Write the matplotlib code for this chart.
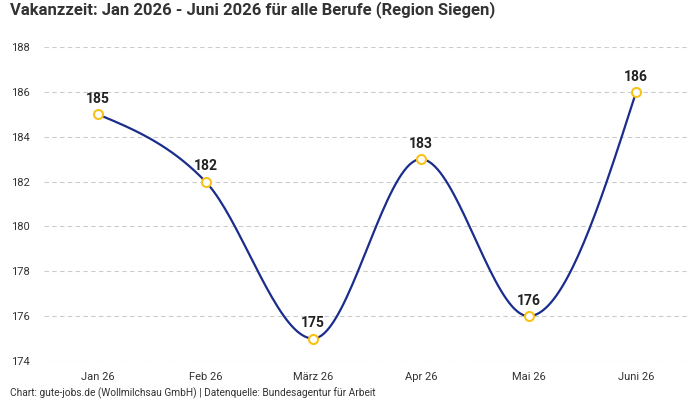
import numpy as np
import matplotlib.pyplot as plt

months = ["Jan 26", "Feb 26", "März 26", "Apr 26", "Mai 26", "Juni 26"]
vakanz = [185, 182, 175, 183, 176, 186]

title = "Vakanzzeit: Jan 2026 - Juni 2026 für alle Berufe (Region Siegen)"
footer = "Chart: gute-jobs.de (Wollmilchsau GmbH) | Datenquelle: Bundesagentur für Arbeit"

plt.rcParams['font.family'] = ['Roboto', 'DejaVu Sans']


def monotone_curve(x, y, n=40):
    # monotone cubic (d3 curveMonotoneX style)
    x = np.asarray(x, float)
    y = np.asarray(y, float)
    h = np.diff(x)
    s = np.diff(y) / h
    m = np.zeros(len(x))
    for i in range(1, len(x) - 1):
        p = (s[i - 1] * h[i] + s[i] * h[i - 1]) / (h[i - 1] + h[i])
        m[i] = (np.sign(s[i - 1]) + np.sign(s[i])) * min(abs(s[i - 1]), abs(s[i]), 0.5 * abs(p))
    m[0] = (3 * s[0] - m[1]) / 2
    m[-1] = (3 * s[-1] - m[-2]) / 2
    xs, ys = [], []
    for i in range(len(x) - 1):
        t = np.linspace(0, 1, n)
        dx = h[i] / 3
        p0 = (x[i], y[i])
        p1 = (x[i] + dx, y[i] + dx * m[i])
        p2 = (x[i + 1] - dx, y[i + 1] - dx * m[i + 1])
        p3 = (x[i + 1], y[i + 1])
        bx = (1 - t)**3 * p0[0] + 3 * (1 - t)**2 * t * p1[0] + 3 * (1 - t) * t**2 * p2[0] + t**3 * p3[0]
        by = (1 - t)**3 * p0[1] + 3 * (1 - t)**2 * t * p1[1] + 3 * (1 - t) * t**2 * p2[1] + t**3 * p3[1]
        xs.extend(bx)
        ys.extend(by)
    return np.array(xs), np.array(ys)


fig = plt.figure(figsize=(7, 4), dpi=100)
ax = fig.add_axes([44 / 700, 1 - 361 / 400, (690 - 44) / 700, (361 - 47) / 400])

xpos = np.arange(len(months))
cx, cy = monotone_curve(xpos, vakanz)
ax.plot(cx, cy, color='#1a2d8c', lw=1.6, zorder=3)
ax.plot(xpos, vakanz, 'o', ms=6.5, mfc='white', mec='#f7c21a', mew=1.5, zorder=4, clip_on=False)

for x, v in zip(xpos, vakanz):
    ax.annotate(str(v), (x, v), xytext=(0, 6), textcoords='offset points',
                ha='center', va='bottom', fontsize=10, fontweight='semibold', color='#222222')

ax.set_xlim(-0.5, len(months) - 0.5)
ax.set_ylim(174, 188)
ax.set_yticks(np.arange(174, 189, 2))
ax.set_xticks(xpos)
ax.set_xticklabels(months)
ax.grid(axis='y', color='#cccccc', ls=(0, (4, 3)), lw=0.8)
ax.set_axisbelow(True)
for sp in ax.spines.values():
    sp.set_visible(False)
ax.tick_params(length=0, labelsize=8, colors='#333333')
ax.tick_params(axis='x', pad=8)
ax.tick_params(axis='y', pad=10)

fig.text(10 / 700, 1 - 10 / 400, title, ha='left', va='center', fontsize=12,
         fontweight='bold', color='#333333')
fig.text(10 / 700, 1 - 393 / 400, footer, ha='left', va='center', fontsize=7.3, color='#333333')

fig.savefig('out.png', dpi=100)
